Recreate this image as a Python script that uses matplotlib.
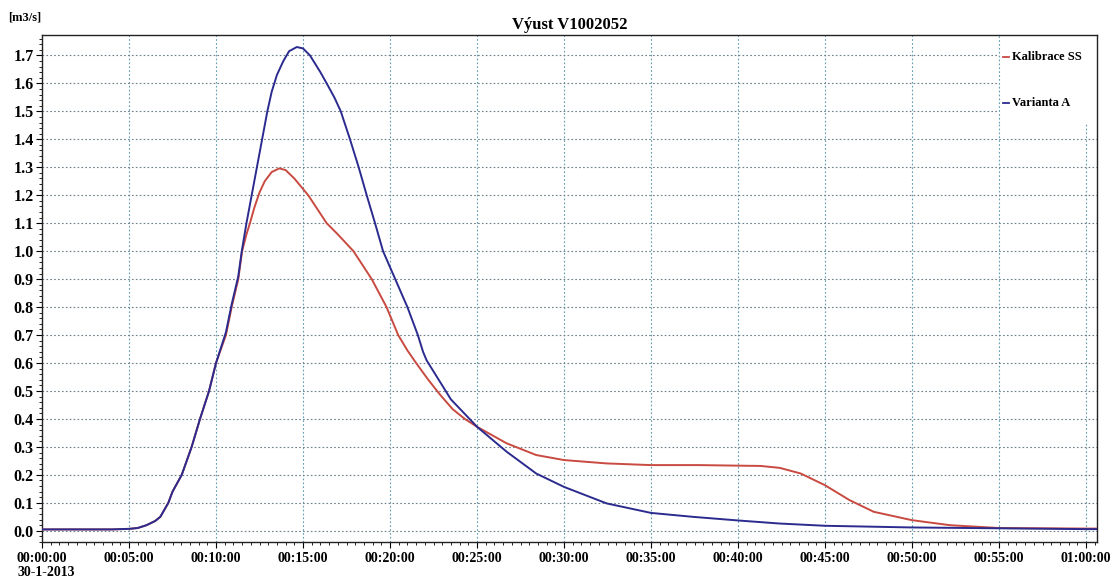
import matplotlib
matplotlib.use("Agg")
import matplotlib.pyplot as plt
from matplotlib.patches import Rectangle
from matplotlib.ticker import MultipleLocator
import numpy as np

# ---- data (time in minutes, discharge in m3/s) ----
red_t = [0, 4.0, 5.0, 5.5, 6.0, 6.5, 6.8, 7.26, 7.5, 8.03, 8.6, 9.08, 9.6, 10.0,
         10.57, 10.9, 11.28, 11.5, 11.75, 11.95, 12.2, 12.5, 12.8, 13.2, 13.64,
         14.0, 14.5, 15.3, 16.36, 17.0, 17.9, 18.95, 19.8, 20.47, 21.0, 21.5, 22.2,
         22.9, 23.6, 24.3, 25.0, 26.7, 28.4, 30.0, 32.45, 35.0, 37.8, 40.0, 41.3,
         42.4, 43.6, 45.0, 46.4, 47.8, 50.0, 52.2, 55.0, 60.0, 60.63]
red_q = [0.005, 0.005, 0.007, 0.01, 0.02, 0.035, 0.05, 0.1, 0.14, 0.2, 0.3, 0.4,
         0.5, 0.6, 0.7, 0.8, 0.9, 1.0, 1.06, 1.1, 1.155, 1.21, 1.25, 1.283, 1.296,
         1.29, 1.26, 1.2, 1.1, 1.06, 1.0, 0.9, 0.8, 0.7, 0.645, 0.6, 0.54, 0.485,
         0.435, 0.4, 0.372, 0.313, 0.271, 0.253, 0.241, 0.235, 0.235, 0.233,
         0.232, 0.225, 0.205, 0.163, 0.11, 0.068, 0.038, 0.02, 0.01, 0.008, 0.008]

blue_t = [0, 4.0, 5.0, 5.5, 6.0, 6.5, 6.8, 7.26, 7.5, 8.03, 8.6, 9.08, 9.6, 10.0,
          10.57, 10.9, 11.28, 11.48, 11.75, 12.05, 12.35, 12.65, 12.95, 13.2,
          13.5, 13.87, 14.2, 14.64, 15.0, 15.4, 16.0, 16.36, 16.8, 17.17, 17.7,
          18.2, 18.66, 19.14, 19.6, 20.3, 21.0, 21.6, 21.9, 22.1, 22.6, 23.5,
          25.0, 26.7, 28.4, 30.0, 32.45, 35.0, 37.4, 40.0, 42.4, 45.0, 50.0,
          55.0, 60.0, 60.63]
blue_q = [0.005, 0.005, 0.007, 0.01, 0.02, 0.035, 0.05, 0.1, 0.14, 0.2, 0.3, 0.4,
          0.5, 0.6, 0.71, 0.81, 0.91, 1.0, 1.1, 1.2, 1.3, 1.4, 1.5, 1.57, 1.63,
          1.68, 1.715, 1.73, 1.725, 1.70, 1.64, 1.6, 1.55, 1.5, 1.4, 1.3, 1.2,
          1.1, 1.0, 0.9, 0.8, 0.7, 0.64, 0.61, 0.56, 0.47, 0.372, 0.283, 0.205,
          0.157, 0.098, 0.064, 0.05, 0.037, 0.026, 0.018, 0.012, 0.009, 0.006,
          0.006]

series_names = ["Kalibrace SS", "Varianta A"]
x_tick_minutes = [0, 5, 10, 15, 20, 25, 30, 35, 40, 45, 50, 55, 60]
x_tick_labels = ["00:00:00", "00:05:00", "00:10:00", "00:15:00", "00:20:00",
                 "00:25:00", "00:30:00", "00:35:00", "00:40:00", "00:45:00",
                 "00:50:00", "00:55:00", "01:00:00"]
y_ticks = [round(0.1 * i, 1) for i in range(18)]
date_label = "30-1-2013"
title = "Výust V1002052"
unit = "[m3/s]"

# ---- figure ----
W, H = 1111, 577
fig = plt.figure(figsize=(W / 100, H / 100), dpi=100)
plt.rcParams['font.family'] = ['Liberation Serif', 'DejaVu Serif']
ax = fig.add_axes([42 / W, 1 - 542 / H, (1097 - 42) / W, (542 - 35) / H])

RED = "#c84a40"
BLUE = "#2b2b8f"

ax.set_xlim(0, 60.63)
ax.set_ylim(-0.04, 1.773)

# grid
for xv in x_tick_minutes[1:]:
    ax.axvline(xv, color="#5f9cb0", lw=0.8, ls=(0, (1.5, 2.0)), zorder=1)
for yv in y_ticks:
    ax.axhline(yv, color="#6f7f8a", lw=0.8, ls=(0, (1.5, 2.0)), zorder=1)

# white legend box covering grid
ax.add_patch(Rectangle((55, 1.46), 60.63 - 55, 1.773 - 1.46, facecolor="white",
                       edgecolor="none", zorder=2))
ax.plot([55, 55], [1.46, 1.773], color="#5f9cb0", lw=0.8, ls=(0, (1.5, 2.0)), zorder=3)

ax.plot(red_t, red_q, color=RED, lw=1.4, zorder=4)
ax.plot(blue_t, blue_q, color=BLUE, lw=1.4, zorder=5)

# legend texts
ax.plot([55.2, 55.55], [1.695, 1.695], color=RED, lw=1.3, zorder=6, clip_on=False)
ax.text(55.75, 1.695, series_names[0], fontsize=9, fontweight="bold", va="center",
        ha="left", zorder=6)
ax.plot([55.2, 55.55], [1.53, 1.53], color=BLUE, lw=1.3, zorder=6, clip_on=False)
ax.text(55.75, 1.53, series_names[1], fontsize=9, fontweight="bold", va="center",
        ha="left", zorder=6)

# ticks
ax.set_xticks(x_tick_minutes)
ax.set_xticklabels(x_tick_labels, fontsize=10, fontweight="bold")
ax.xaxis.set_minor_locator(MultipleLocator(0.5))
ax.set_yticks(y_ticks)
ax.set_yticklabels([f"{v:.1f}" for v in y_ticks], fontsize=11.5, fontweight="bold")
ax.yaxis.set_minor_locator(MultipleLocator(0.02))
ax.tick_params(axis="both", which="major", direction="out", length=4, width=0.8, pad=3)
ax.tick_params(axis="y", which="major", pad=2)
ax.tick_params(axis="both", which="minor", direction="out", length=2, width=0.6)
for s in ax.spines.values():
    s.set_linewidth(1.0)
    s.set_color("#222222")

ax.set_title(title, fontsize=12, fontweight="bold", pad=4)
fig.text(8 / W, 1 - 18 / H, unit, fontsize=9, fontweight="bold", ha="left", va="center")
fig.text(18 / W, 1 - 572 / H, date_label, fontsize=10, fontweight="bold", ha="left",
         va="center")

fig.savefig("out.png", dpi=100, facecolor="white")
